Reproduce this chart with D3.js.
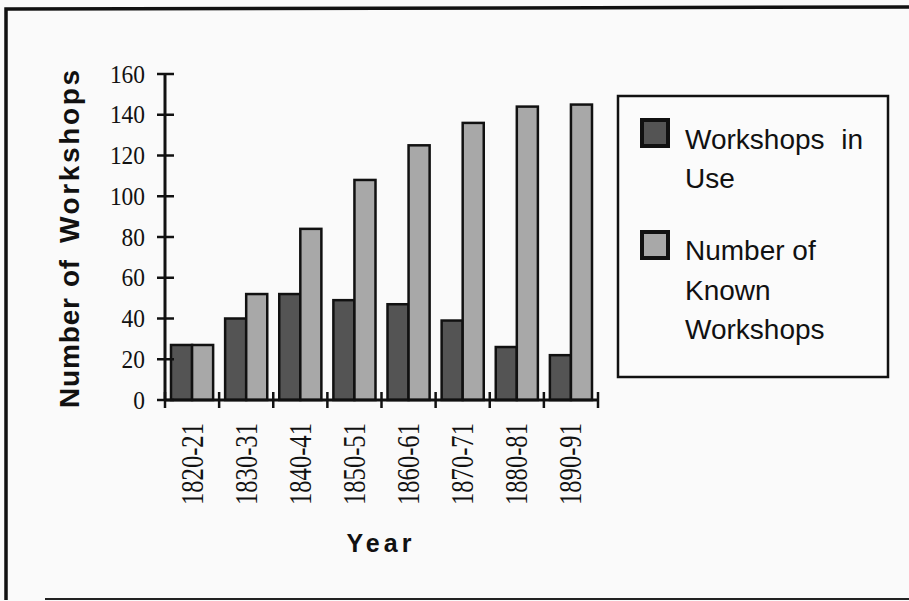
<!DOCTYPE html>
<html><head><meta charset="utf-8">
<script src="https://cdn.jsdelivr.net/npm/d3@7"></script>
<style>body{margin:0;background:#fafafa}svg{display:block}</style>
</head><body>
<svg id="c" width="909" height="601"></svg>
<script>
const categories = ["1820-21","1830-31","1840-41","1850-51","1860-61","1870-71","1880-81","1890-91"];
const inUse = [27, 40, 52, 49, 47, 39, 26, 22];
const known = [27, 52, 84, 108, 125, 136, 144, 145];
const seriesNames = ["Workshops in Use", "Number of Known Workshops"];
const yTicks = [0,20,40,60,80,100,120,140,160];

const svg = d3.select("#c");
svg.append("rect").attr("width",909).attr("height",601).attr("fill","#fafafa");
// frame
svg.append("path").attr("d","M6,600 L6,9 L909,7").attr("fill","none").attr("stroke","#111").attr("stroke-width",3.5);
svg.append("line").attr("x1",45).attr("x2",909).attr("y1",599).attr("y2",599).attr("stroke","#222").attr("stroke-width",2);

const x0 = 165, x1 = 598, yBase = 400, yTop = 74;
const x = d3.scaleBand().domain(categories).range([x0,x1]).padding(0);
const xs = d3.scaleBand().domain([0,1]).range([6, x.bandwidth()-6]).padding(0);
const y = d3.scaleLinear().domain([0,160]).range([yBase,yTop]);

const fills = ["#545454","#a8a8a8"];
const data = categories.map((c,i)=>({c, v:[inUse[i], known[i]]}));
const g = svg.append("g");
data.forEach(d=>{
  d.v.forEach((v,k)=>{
    g.append("rect")
      .attr("x", x(d.c)+xs(k))
      .attr("y", y(v))
      .attr("width", xs.bandwidth())
      .attr("height", yBase - y(v))
      .attr("fill", fills[k]).attr("stroke","#111").attr("stroke-width",2.5);
  });
});

const serif = "'Liberation Serif','Times New Roman',serif";
const sans = "'Liberation Sans',Arial,sans-serif";

// place text with horizontal (along-text) scaling to a target width
function fitText(parent, txt, tx, ty, rot, target, attrs, anchor){
  const t = parent.append("text").text(txt);
  Object.entries(attrs).forEach(([k,v])=>t.attr(k,v));
  const w = t.node().getComputedTextLength();
  const s = target ? target / w : 1;
  let dx = 0;
  if (anchor === "end") dx = -w;
  else if (anchor === "middle") dx = -w/2;
  t.attr("x", dx);
  t.attr("transform", `translate(${tx},${ty}) rotate(${rot}) scale(${s},1)`);
  return t;
}

// y axis
const ya = svg.append("g");
ya.append("line").attr("x1",x0).attr("x2",x0).attr("y1",yTop).attr("y2",yBase).attr("stroke","#111").attr("stroke-width",3);
yTicks.forEach(v=>{
  ya.append("line").attr("x1",x0-8).attr("x2",x0+9).attr("y1",y(v)).attr("y2",y(v)).attr("stroke","#111").attr("stroke-width",2.5);
  const s = String(v);
  fitText(ya, s, 145, y(v)+8.5, 0, s.length*11.7, {"font-family":serif,"font-size":25,"fill":"#111"}, "end");
});

// x axis
const bounds = categories.map(c=>x(c)).concat([x1]);
const xa = svg.append("g");
xa.append("line").attr("x1",x0).attr("x2",x1).attr("y1",yBase).attr("y2",yBase).attr("stroke","#111").attr("stroke-width",3);
xa.selectAll("line.t").data(bounds).join("line").attr("class","t")
  .attr("x1",d=>d).attr("x2",d=>d).attr("y1",yBase-8).attr("y2",yBase+8)
  .attr("stroke","#111").attr("stroke-width",2.5);
categories.forEach(c=>{
  fitText(xa, c, x(c)+x.bandwidth()/2+10.5, 423, -90, 82, {"font-family":serif,"font-size":31,"fill":"#111"}, "end");
});

// axis titles
svg.append("text").attr("x",381).attr("y",552).attr("text-anchor","middle")
  .attr("font-family",sans).attr("font-weight","bold").attr("font-size",25)
  .attr("letter-spacing","4px").attr("fill","#111").text("Year");
const yTitle = [["Number",298,408],["of",260,287],["Workshops",70,243]];
yTitle.forEach(([w,a,b])=>{
  svg.append("text").attr("transform",`translate(79,${b}) rotate(-90)`)
    .attr("font-family",sans).attr("font-weight","bold").attr("font-size",28).attr("fill","#111")
    .attr("textLength",b-a).attr("lengthAdjust","spacing").text(w);
});

// legend
const lg = svg.append("g");
lg.append("rect").attr("x",618).attr("y",96).attr("width",270).attr("height",281)
  .attr("fill","#fbfbfb").attr("stroke","#111").attr("stroke-width",2.5);
const legendLines = [["Workshops in","Use"],["Number of","Known","Workshops"]];
const swY = [120, 232];
const txtY = [[149,188],[260,300,339]];
seriesNames.forEach((s,k)=>{
  lg.append("rect").attr("x",642).attr("y",swY[k]).attr("width",26).attr("height",26)
    .attr("fill",fills[k]).attr("stroke","#111").attr("stroke-width",4);
  legendLines[k].forEach((t,j)=>{
    const tt = lg.append("text").attr("x",685).attr("y",txtY[k][j])
      .attr("font-family",sans).attr("font-size",28).attr("fill","#111").text(t);
    if (t === "Workshops in") tt.attr("word-spacing","9px");
  });
});
</script>
</body></html>
